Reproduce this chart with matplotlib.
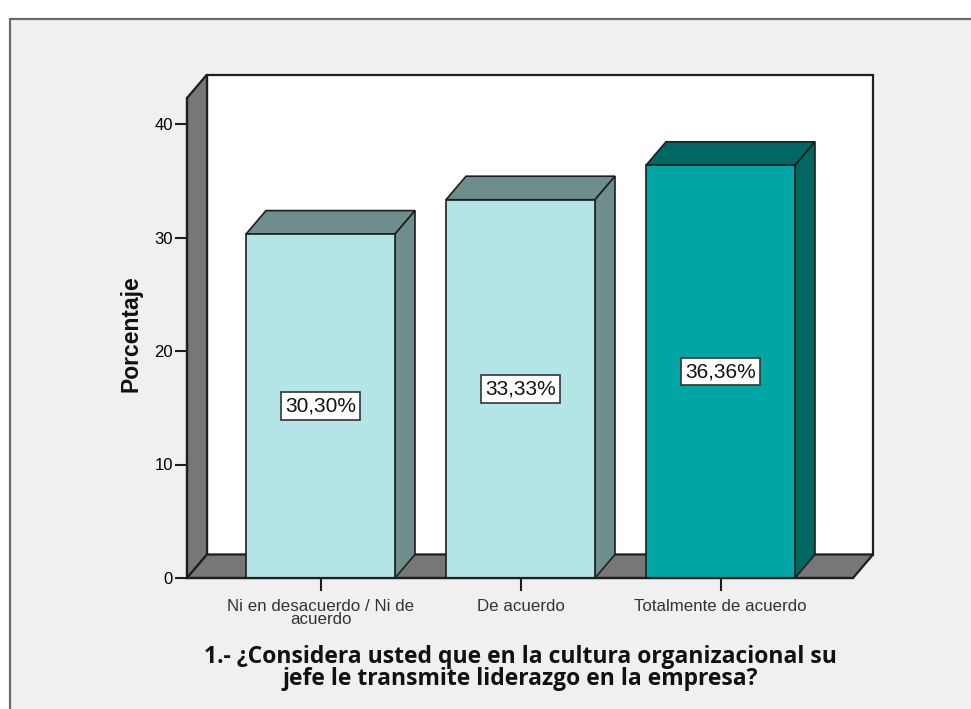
import matplotlib
matplotlib.use("Agg")
import matplotlib.pyplot as plt
from matplotlib.patches import Polygon, Rectangle

categories = ["Ni en desacuerdo / Ni de\nacuerdo", "De acuerdo", "Totalmente de acuerdo"]
percentages = [30.30, 33.33, 36.36]
value_labels = ["30,30%", "33,33%", "36,36%"]
y_ticks = [0, 10, 20, 30, 40]
x_title = "1.- ¿Considera usted que en la cultura organizacional su\njefe le transmite liderazgo en la empresa?"
y_title = "Porcentaje"

face_colors = ["#b3e5e6", "#b3e5e6", "#00a6a3"]
shade_colors = ["#6e8e8e", "#6e8e8e", "#006763"]
wall_gray = "#777777"
edge = "#1e1e1e"

W, H = 971, 709
fig = plt.figure(figsize=(W / 100, H / 100), dpi=100, facecolor="white")

# chart frame
fig.patches.append(Rectangle((10 / W, -0.1), 1.2, (H - 19) / H + 0.1,
                             transform=fig.transFigure, facecolor="#f0f0f0",
                             edgecolor="#6a6a6a", linewidth=1.6, zorder=-10))

# front plane of the 3-D box, in pixels
left_px, right_px, zero_px, top_px = 187, 853, 578, 98
px_per_unit = 11.35
ymax = (zero_px - top_px) / px_per_unit
spacing_px = 200.0
first_center_px = 320.5
xl = (left_px - first_center_px) / spacing_px
xr = (right_px - first_center_px) / spacing_px

ax = fig.add_axes([left_px / W, (H - zero_px) / H,
                   (right_px - left_px) / W, (zero_px - top_px) / H])
ax.set_xlim(xl, xr)
ax.set_ylim(0, ymax)
ax.patch.set_alpha(0)

dx = 20 / spacing_px
dy = 23.5 / px_per_unit
bar_w = 149 / spacing_px

# back wall, side wall and floor
ax.add_patch(Polygon([(xl + dx, dy), (xr + dx, dy), (xr + dx, ymax + dy), (xl + dx, ymax + dy)],
                     closed=True, facecolor="white", edgecolor=edge, lw=1.6, clip_on=False, zorder=1))
ax.add_patch(Polygon([(xl, 0), (xl, ymax), (xl + dx, ymax + dy), (xl + dx, dy)],
                     closed=True, facecolor=wall_gray, edgecolor=edge, lw=1.6, clip_on=False, zorder=1.5))
ax.add_patch(Polygon([(xl, 0), (xr, 0), (xr + dx, dy), (xl + dx, dy)],
                     closed=True, facecolor=wall_gray, edgecolor=edge, lw=1.6, clip_on=False, zorder=1.5))

# 3-D bars
for i, v in enumerate(percentages):
    x0, x1 = i - bar_w / 2, i + bar_w / 2
    ax.bar(i, v, width=bar_w, color=face_colors[i], edgecolor=edge, lw=1.2, zorder=3)
    ax.add_patch(Polygon([(x0, v), (x1, v), (x1 + dx, v + dy), (x0 + dx, v + dy)],
                         closed=True, facecolor=shade_colors[i], edgecolor=edge, lw=1.2,
                         clip_on=False, zorder=2.5))
    ax.add_patch(Polygon([(x1, 0), (x1, v), (x1 + dx, v + dy), (x1 + dx, dy)],
                         closed=True, facecolor=shade_colors[i], edgecolor=edge, lw=1.2,
                         clip_on=False, zorder=2.5))
    ax.text(i, v / 2, value_labels[i], ha="center", va="center", fontsize=15,
            family="Liberation Sans", color="#111111", zorder=5,
            bbox=dict(boxstyle="square,pad=0.2", facecolor="white", edgecolor="#333333", lw=1.2))

for s in ["top", "right"]:
    ax.spines[s].set_visible(False)
for s in ["left", "bottom"]:
    ax.spines[s].set_color(edge)
    ax.spines[s].set_linewidth(1.6)
    ax.spines[s].set_zorder(4)

ax.set_yticks(y_ticks)
ax.set_yticklabels([str(t) for t in y_ticks], family="Liberation Sans", fontsize=12)
ax.set_xticks(range(len(categories)))
ax.set_xticklabels(categories, family="Liberation Sans", fontsize=12.2, color="#333333",
                   linespacing=0.85)
ax.tick_params(axis="y", length=9, width=1.5, color=edge, pad=1)
ax.tick_params(axis="x", length=9, width=1.5, color=edge, pad=6)

fig.text(131 / W, 1 - 334 / H, y_title, rotation=90, ha="center", va="center",
         fontsize=16.5, fontweight="bold", family="Liberation Sans", color="#111111")
fig.text(520 / W, 1 - 668 / H, x_title, ha="center", va="center", fontsize=16.5,
         fontweight="bold", family="Open Sans", color="#111111", linespacing=0.88)

fig.savefig("out.png", dpi=100)
